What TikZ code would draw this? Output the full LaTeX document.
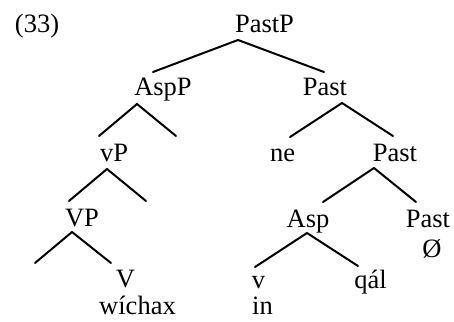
\documentclass[tikz,border=0pt]{standalone}
\usepackage{fontspec}
\setmainfont{Liberation Serif}
\tikzset{
  lab/.style={inner sep=0pt, anchor=base, font=\fontsize{26.5}{30}\selectfont},
  branch/.style={line width=2pt, line cap=round, line join=round}
}
\begin{document}
\begin{tikzpicture}[x=1pt,y=-1pt]
\useasboundingbox (0,0) rectangle (454,321);

% example number
\node[lab] (num) at (37,33) {(33)};

% node labels
\node[lab] (PastP) at (264.5,33) {PastP};
\node[lab] (AspP) at (163,95) {AspP};
\node[lab] (PastA) at (325,95) {Past};
\node[lab] (vP) at (114,161) {vP};
\node[lab] (ne) at (282.5,161) {ne};
\node[lab] (PastB) at (395,161) {Past};
\node[lab] (VP) at (82,226) {VP};
\node[lab] (Asp) at (308,227) {Asp};
\node[lab] (PastC) at (428,227) {Past};
\node[lab] (null) at (432,257) {Ø};
\node[lab] (V) at (125.5,287) {V};
\node[lab] (v) at (258.5,288) {v};
\node[lab] (qal) at (370.5,288) {qál};
\node[lab] (wichax) at (137.5,314) {wíchax};
\node[lab] (in) at (262.5,314) {in};

% branch points
\coordinate (PastP-a) at (238,40);
\coordinate (PastP-l) at (153,72);
\coordinate (PastP-r) at (324,72);
\coordinate (AspP-a) at (137,104);
\coordinate (AspP-l) at (99,136);
\coordinate (AspP-r) at (176,136);
\coordinate (PastA-a) at (342,103);
\coordinate (PastA-l) at (290,137);
\coordinate (PastA-r) at (393,136);
\coordinate (vP-a) at (107,169);
\coordinate (vP-l) at (69,201);
\coordinate (vP-r) at (146,201);
\coordinate (PastB-a) at (374,168);
\coordinate (PastB-l) at (323,202);
\coordinate (PastB-r) at (416,202);
\coordinate (VP-a) at (72,232);
\coordinate (VP-l) at (35,263);
\coordinate (VP-r) at (111,263);
\coordinate (Asp-a) at (307,233);
\coordinate (Asp-l) at (255,267);
\coordinate (Asp-r) at (358,266);

% branches
\draw[branch] (PastP-l) -- (PastP-a) -- (PastP-r);
\draw[branch] (AspP-l) -- (AspP-a) -- (AspP-r);
\draw[branch] (PastA-l) -- (PastA-a) -- (PastA-r);
\draw[branch] (vP-l) -- (vP-a) -- (vP-r);
\draw[branch] (PastB-l) -- (PastB-a) -- (PastB-r);
\draw[branch] (VP-l) -- (VP-a) -- (VP-r);
\draw[branch] (Asp-l) -- (Asp-a) -- (Asp-r);
\end{tikzpicture}
\end{document}
